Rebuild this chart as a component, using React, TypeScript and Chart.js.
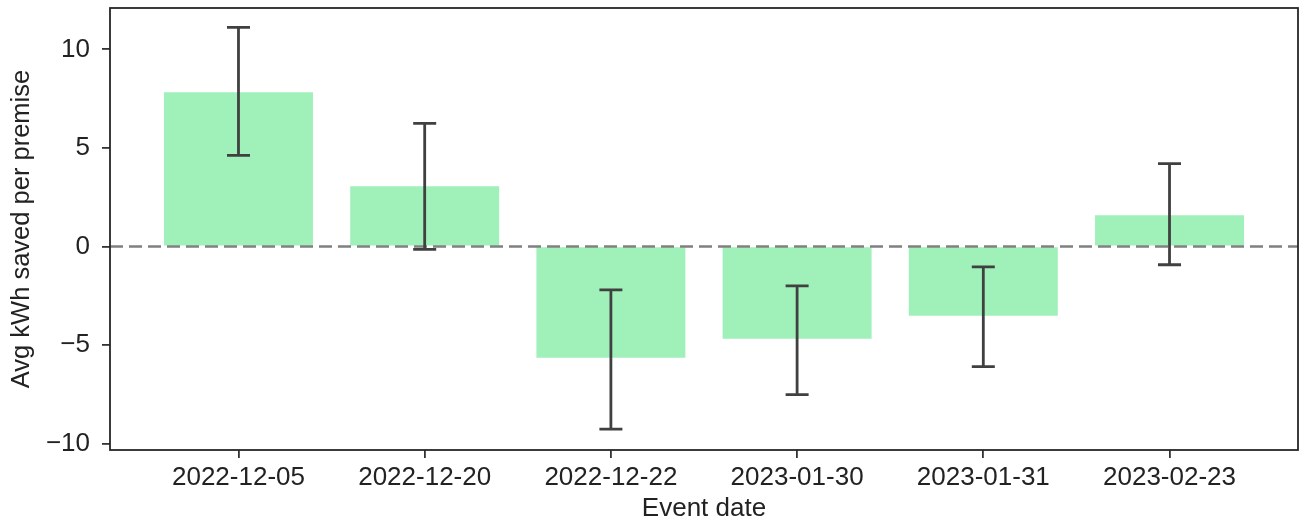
import React, { useEffect, useRef } from "react";
import { Chart, registerables } from "chart.js";

Chart.register(...registerables);

const categories = ["2022-12-05", "2022-12-20", "2022-12-22", "2023-01-30", "2023-01-31", "2023-02-23"];
const savings = [7.82, 3.06, -5.65, -4.69, -3.52, 1.58];
const errLower = [4.62, -0.15, -9.27, -7.52, -6.1, -0.93];
const errUpper = [11.12, 6.25, -2.2, -2.0, -1.04, 4.2];
const yTicks = [-10, -5, 0, 5, 10];

const FONT = "'Liberation Sans', Arial, Helvetica, sans-serif";
const TEXT = "#222222";

const overlayPlugin = {
  id: "overlay",
  afterDatasetsDraw(chart: any) {
    const { ctx, chartArea, scales } = chart;
    const xs = scales.x;
    const ys = scales.y;
    ctx.save();
    const y0 = ys.getPixelForValue(0);
    ctx.beginPath();
    ctx.setLineDash([13, 6]);
    ctx.strokeStyle = "#808080";
    ctx.lineWidth = 2.5;
    ctx.moveTo(chartArea.left, y0);
    ctx.lineTo(chartArea.right, y0);
    ctx.stroke();
    ctx.setLineDash([]);
    ctx.strokeStyle = "#404040";
    ctx.lineWidth = 2.8;
    const cap = 11.5;
    categories.forEach((_, i) => {
      const x = xs.getPixelForValue(i);
      const yl = ys.getPixelForValue(errLower[i]);
      const yu = ys.getPixelForValue(errUpper[i]);
      ctx.beginPath();
      ctx.moveTo(x, yl);
      ctx.lineTo(x, yu);
      ctx.moveTo(x - cap, yl);
      ctx.lineTo(x + cap, yl);
      ctx.moveTo(x - cap, yu);
      ctx.lineTo(x + cap, yu);
      ctx.stroke();
    });
    ctx.strokeStyle = "#262626";
    ctx.lineWidth = 1.8;
    ctx.strokeRect(chartArea.left, chartArea.top, chartArea.right - chartArea.left, chartArea.bottom - chartArea.top);
    ctx.restore();
  },
};

export default function App() {
  const ref = useRef<HTMLCanvasElement | null>(null);
  useEffect(() => {
    if (!ref.current) return;
    const chart = new Chart(ref.current, {
      type: "bar",
      data: {
        datasets: [
          {
            data: savings.map((v, i) => ({ x: i, y: v })),
            backgroundColor: "rgb(160,240,186)",
            borderWidth: 0,
            barPercentage: 0.8,
            categoryPercentage: 1,
          },
        ],
      },
      options: {
        animation: false,
        responsive: false,
        layout: { padding: { top: 8, right: 4, left: 0, bottom: 0 } },
        plugins: { legend: { display: false }, tooltip: { enabled: false } },
        scales: {
          x: {
            type: "linear",
            min: -0.69,
            max: 5.69,
            offset: false,
            afterBuildTicks: (s: any) => {
              s.ticks = categories.map((_, i) => ({ value: i }));
            },
            afterFit: (s: any) => {
              s.height = 75;
              s.paddingLeft = 0;
              s.paddingRight = 0;
            },
            ticks: {
              callback: (v: any) => categories[v as number] ?? "",
              font: { family: FONT, size: 26 },
              color: TEXT,
              padding: 4,
              maxRotation: 0,
              autoSkip: false,
            },
            grid: { offset: false, drawOnChartArea: false, drawTicks: true, tickLength: 8, color: "#333333", lineWidth: 1.8 },
            border: { display: false },
            title: {
              display: true,
              text: "Event date",
              font: { family: FONT, size: 26 },
              color: TEXT,
              padding: { top: 0, bottom: 1 },
            },
          },
          y: {
            min: -10.33,
            max: 12.1,
            afterBuildTicks: (s: any) => {
              s.ticks = yTicks.map((v) => ({ value: v }));
            },
            afterFit: (s: any) => {
              s.width = 110;
              s.paddingTop = 0;
              s.paddingBottom = 0;
            },
            ticks: {
              callback: (v: any) => (v < 0 ? "\u2212" + Math.abs(v) : String(v)),
              font: { family: FONT, size: 26 },
              color: TEXT,
              padding: 12,
            },
            grid: { drawOnChartArea: false, drawTicks: true, tickLength: 8, color: "#333333", lineWidth: 1.8 },
            border: { display: false },
            title: {
              display: true,
              text: "Avg kWh saved per premise",
              font: { family: FONT, size: 25.5 },
              color: TEXT,
              padding: { top: 7, bottom: 0 },
            },
          },
        },
      },
      plugins: [overlayPlugin],
    } as any);
    return () => chart.destroy();
  }, []);
  return (
    <div style={{ position: "absolute", left: 0, top: 0, width: 1302, height: 525 }}>
      <canvas ref={ref} width={1302} height={525} style={{ display: "block" }} />
    </div>
  );
}
